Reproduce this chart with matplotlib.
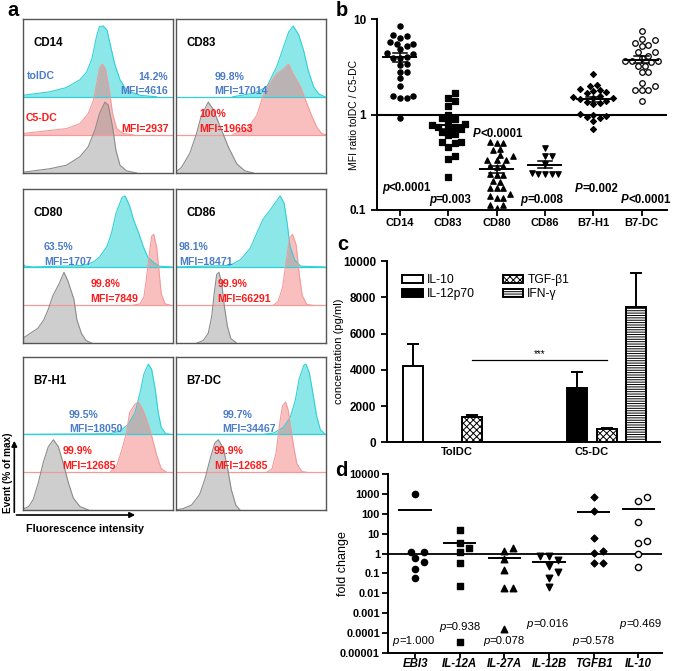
import numpy as np
import matplotlib
matplotlib.use("Agg")
import matplotlib.pyplot as plt
from matplotlib.patches import Patch

plt.rcParams['font.family'] = ['Liberation Sans', 'DejaVu Sans']
plt.rcParams['hatch.linewidth'] = 0.7

# ---------------- panel a: histogram outlines ----------------
# (x in % of box width, height in % of max), one list per population
cd14_tol = [(0, 2), (18, 7), (29, 13), (38, 24), (42.5, 35), (46, 54), (49, 85), (51, 99), (53.5, 100),
            (56, 94), (58, 75), (61, 47), (64.6, 24), (69, 9), (78, 2), (89, 0)]
cd14_c5 = [(0, 2), (29, 9), (38, 16), (43.5, 30), (47, 49), (49.5, 77), (51, 95), (53, 100), (55, 93),
           (57.5, 63), (59.7, 30), (62.4, 9), (66.8, 2), (73.5, 0)]
cd14_iso = [(0, 1), (18, 6), (29, 11), (38, 23), (43.5, 37), (48, 61), (51, 84), (54.6, 100), (56.8, 96),
            (59.7, 65), (61.9, 32), (64.6, 11), (69, 3), (75.7, 0)]
cd83_tol = [(38, 0), (52, 5), (60.5, 14), (67, 42), (71.6, 70), (75, 91), (78, 100), (81.6, 88), (85, 65),
            (88, 37), (91.6, 14), (95, 4), (99, 0)]
cd83_c5 = [(38, 1), (47, 7), (54, 28), (58, 55), (63, 74), (67, 86), (71.6, 93), (75, 100), (78, 86),
           (82.7, 69), (87, 45), (90.5, 26), (94, 10), (97, 2), (100, 0)]
cd83_iso = [(0, 1), (4, 8), (9.5, 28), (14, 56), (17, 80), (21.7, 100), (25, 90), (29.5, 66), (35, 37),
            (40.6, 13), (46, 3), (51.7, 0)]
cd80_tol = [(0, 5), (1.5, 1), (7, 0), (40, 2), (47, 7), (51, 14), (56, 29), (59, 48), (62, 76), (66, 98),
            (68, 100), (71, 86), (73.5, 67), (77, 48), (80, 29), (83, 14), (87, 6), (91, 1), (99, 0)]
cd80_c5 = [(73.5, 0), (78, 2), (80.5, 12), (82, 35), (84, 71), (85.6, 97), (87, 100), (89, 81), (90.7, 44),
           (92, 16), (94.5, 2), (98, 0)]
cd80_iso = [(0, 7), (5, 14), (10, 21), (14, 33), (17, 48), (20, 67), (24, 83), (27.4, 100), (30, 88),
            (34, 62), (36, 33), (39, 14), (42, 4), (46, 0)]
cd86_tol = [(0, 0), (36, 2), (43, 10), (49.5, 26), (54, 48), (58, 67), (63, 81), (66, 90), (69.4, 100),
            (72, 90), (74, 62), (76, 29), (79, 10), (83, 1), (99, 0)]
cd86_c5 = [(65, 0), (68, 5), (71, 25), (73.4, 62), (75.6, 94), (77.6, 100), (80, 85), (82, 44), (84, 14),
           (87, 1), (90.5, 0)]
cd86_iso = [(14, 0), (18.4, 4), (21.7, 14), (24, 38), (25.7, 71), (27.3, 97), (28.8, 100), (30.6, 85),
            (32.4, 52), (34.4, 24), (36.6, 7), (40.6, 0)]
b7h1_tol = [(0, 0), (58, 1), (64.6, 5), (70, 14), (74.6, 31), (78, 60), (80.5, 86), (83.4, 100), (85.6, 93),
            (88, 64), (90, 31), (92, 10), (95, 1), (99, 0)]
b7h1_c5 = [(58, 0), (62.4, 9), (65.7, 31), (69, 57), (71, 85), (74.6, 97), (76.8, 100), (79.6, 90), (82.3, 75),
           (85.6, 52), (89, 24), (92, 5), (95.6, 0)]
b7h1_iso = [(0, 1), (4, 5), (7, 15), (10.4, 39), (13.7, 68), (17, 90), (20.4, 100), (23.7, 90), (27, 66),
            (30.3, 39), (33.6, 17), (38, 5), (43.6, 0)]
b7dc_tol = [(0, 0), (58, 0), (65, 2), (71.6, 10), (76, 24), (79.4, 48), (82, 79), (85, 98), (86.5, 100),
            (88.7, 88), (91, 60), (93.6, 26), (96, 7), (99.3, 0)]
b7dc_c5 = [(60.5, 0), (64, 5), (66.7, 28), (69.4, 74), (71, 95), (73, 100), (74.8, 88), (76, 70), (78.3, 37),
           (80.5, 12), (83.8, 1), (87, 0)]
b7dc_iso = [(0, 0), (5, 2), (10.6, 7), (16, 22), (19.5, 44), (23, 73), (26, 95), (28.4, 100), (31.7, 88),
            (34.6, 59), (37, 29), (40, 7), (42.8, 0)]

a_markers = ['CD14', 'CD83', 'CD80', 'CD86', 'B7-H1', 'B7-DC']
a_tol_pct = ['14.2%', '99.8%', '63.5%', '98.1%', '99.5%', '99.7%']
a_tol_mfi = ['MFI=4616', 'MFI=17014', 'MFI=1707', 'MFI=18471', 'MFI=18050', 'MFI=34467']
a_c5_pct = ['', '100%', '99.8%', '99.9%', '99.9%', '99.9%']
a_c5_mfi = ['MFI=2937', 'MFI=19663', 'MFI=7849', 'MFI=66291', 'MFI=12685', 'MFI=12685']

# ---------------- panel b: MFI ratio tolDC / C5-DC ----------------
b_markers = ['CD14', 'CD83', 'CD80', 'CD86', 'B7-H1', 'B7-DC']
b_cd14 = [8.5, 6.8, 6.6, 6.3, 5.5, 5.5, 5.2, 5.8, 4.8, 4.4, 4.3, 4.0, 3.9, 3.9, 3.4, 3.3, 2.8, 2.8,
          2.4, 2.0, 1.55, 1.5, 1.5, 1.55, 0.93]
b_cd83 = [1.40, 1.49, 1.67, 1.24, 1.0, 0.92, 0.86, 0.89, 0.77, 0.74, 0.80, 0.74, 0.70, 0.72, 0.65,
          0.63, 0.61, 0.51, 0.50, 0.52, 0.455, 0.37, 0.34, 0.22]
b_cd80 = [0.50, 0.51, 0.50, 0.44, 0.43, 0.37, 0.38, 0.33, 0.33, 0.335, 0.29, 0.29, 0.285, 0.24, 0.23,
          0.23, 0.20, 0.195, 0.17, 0.17, 0.17, 0.148, 0.135, 0.134, 0.14, 0.112, 0.112, 0.105]
b_cd86 = [0.448, 0.37, 0.37, 0.30, 0.24, 0.24, 0.24, 0.24, 0.245]
b_b7h1 = [2.67, 2.06, 2.0, 1.85, 1.81, 1.75, 1.71, 1.66, 1.55, 1.52, 1.50, 1.48, 1.45, 1.40, 1.36, 1.33,
          1.28, 1.02, 1.0, 0.97, 0.95, 0.92, 0.85, 0.71]
b_b7dc = [7.46, 6.2, 6.0, 5.6, 5.3, 5.2, 4.5, 4.5, 4.1, 3.95, 3.65, 3.62, 3.55, 3.62, 3.2, 3.25, 2.77,
          2.77, 2.13, 1.98, 1.81, 1.81, 1.81, 1.38]
b_pvals = [('p', '<0.0001'), ('p', '=0.003'), ('P', '<0.0001'), ('p', '=0.008'), ('P', '=0.002'), ('P', '<0.0001')]

# ---------------- panel c: cytokine concentration ----------------
c_groups = ['TolDC', 'C5-DC']
c_cytokines = ['IL-10', 'IL-12p70', 'TGF-β1', 'IFN-γ']
c_toldc_mean = [4200, np.nan, 1415, np.nan]
c_toldc_sem = [1230, np.nan, 65, np.nan]
c_c5dc_mean = [np.nan, 2980, 715, 7460]
c_c5dc_sem = [np.nan, 870, 65, 1880]
c_sig_level = 4550

# ---------------- panel d: fold change ----------------
d_genes = ['EBI3', 'IL-12A', 'IL-27A', 'IL-12B', 'TGFB1', 'IL-10']
d_ebi3 = [1050, 0.58, 1.17, 1.26, 0.36, 0.17, 0.059]
d_il12a = [16.4, 1.86, 3.3, 1.17, 0.32, 0.022, 0.000033]
d_il27a = [1.42, 1.86, 0.54, 0.15, 0.018, 0.018, 0.00016]
d_il12b = [0.79, 0.48, 0.79, 0.25, 0.114, 0.057, 0.02]
d_tgfb1 = [755, 137, 6.2, 1.42, 1.04, 0.34, 0.34]
d_il10 = [440, 755, 38, 3.46, 4.5, 1.0, 0.22]
d_pvals = ['=1.000', '=0.938', '=0.078', '=0.016', '=0.578', '=0.469']


def swarm(vals, dx_px, dy_px, px_per_decade):
    # simple beeswarm: elliptical footprint, wider than tall, like Prism's column scatter
    y = np.log10(np.asarray(vals, float)) * px_per_decade
    xs = np.zeros(len(y))
    placed = []
    cands = [0.0]
    for k in range(1, 40):
        cands += [k * dx_px / 2, -k * dx_px / 2]
    for i in np.argsort(y):
        for c in cands:
            if all(((c - px) / dx_px) ** 2 + ((y[i] - py) / dy_px) ** 2 >= 1 for px, py in placed):
                break
        xs[i] = c
        placed.append((c, y[i]))
    return xs


W, H = 675, 671
fig = plt.figure(figsize=(W / 100, H / 100), dpi=100)


def fx(px):
    return px / W


def fy(py):
    return 1 - py / H


# ---------------- panel a ----------------
hists = [(cd14_tol, cd14_c5, cd14_iso), (cd83_tol, cd83_c5, cd83_iso), (cd80_tol, cd80_c5, cd80_iso),
         (cd86_tol, cd86_c5, cd86_iso), (b7h1_tol, b7h1_c5, b7h1_iso), (b7dc_tol, b7dc_c5, b7dc_iso)]
box_cols = [(22.7, 173.3), (175.5, 326.3)]
box_rows = [(19, 173), (189, 343.3), (357.3, 510)]
# label layout per box: (tolDC text x, align, C5-DC text x, align)
txt_layout = [
    (0.967, 'right', 0.97, 'right'),
    (0.257, 'left', 0.16, 'left'),
    (0.14, 'left', 0.45, 'left'),
    (0.022, 'left', 0.277, 'left'),
    (0.308, 'left', 0.263, 'left'),
    (0.31, 'left', 0.255, 'left'),
]
blue = '#4a7cc8'
red = '#ff1a1a'
peak = 0.46
for k in range(6):
    r, c = divmod(k, 2)
    x0, x1 = box_cols[c]
    y0, y1 = box_rows[r]
    ax = fig.add_axes([fx(x0), fy(y1), fx(x1 - x0), (y1 - y0) / H])
    ax.set_xlim(0, 100)
    ax.set_ylim(0, 1)
    ax.set_xticks([])
    ax.set_yticks([])
    for s in ax.spines.values():
        s.set_color('#555555')
        s.set_linewidth(1.0)
    tol, c5, iso = hists[k]
    layers = [(tol, 0.495, (0.55, 0.91, 0.91, 1.0), '#2fd0d8'),
              (c5, 0.247, (0.95, 0.45, 0.45, 0.45), '#f39a9a'),
              (iso, 0.0, (0.55, 0.55, 0.55, 0.42), '#8c8c8c')]
    for pts, base, face, edge in layers:
        xs = np.array([p[0] for p in pts])
        ys = base + np.array([p[1] for p in pts]) / 100 * peak
        ax.fill_between(xs, base, ys, color=face, lw=0)
        ax.plot(xs, ys, color=edge, lw=0.8)
        if base > 0:
            ax.axhline(base, color=edge, lw=0.9)
    ax.text(0.07, 0.845, a_markers[k], transform=ax.transAxes, fontsize=8.3, fontweight='bold',
            va='center', ha='left')
    tx, tha, cx, cha = txt_layout[k]
    ax.text(tx, 0.625, a_tol_pct[k], transform=ax.transAxes, fontsize=7.6, fontweight='bold',
            color=blue, ha=tha, va='center')
    ax.text(tx, 0.53, a_tol_mfi[k], transform=ax.transAxes, fontsize=7.6, fontweight='bold',
            color=blue, ha=tha, va='center')
    if a_c5_pct[k]:
        ax.text(cx, 0.385, a_c5_pct[k], transform=ax.transAxes, fontsize=7.6, fontweight='bold',
                color=red, ha=cha, va='center')
    ax.text(cx, 0.287, a_c5_mfi[k], transform=ax.transAxes, fontsize=7.6, fontweight='bold',
            color=red, ha=cha, va='center')
    if k == 0:
        ax.text(0.03, 0.63, 'tolDC', transform=ax.transAxes, fontsize=7.6, fontweight='bold',
                color=blue, ha='left', va='center')
        ax.text(0.02, 0.355, 'C5-DC', transform=ax.transAxes, fontsize=7.6, fontweight='bold',
                color=red, ha='left', va='center')

fig.add_artist(matplotlib.patches.FancyArrowPatch((fx(14.3), fy(515)), (fx(14.3), fy(438)),
                                                  transform=fig.transFigure, arrowstyle='-|>',
                                                  mutation_scale=8, lw=1.2, color='black'))
fig.add_artist(matplotlib.patches.FancyArrowPatch((fx(13.7), fy(515)), (fx(138), fy(515)),
                                                  transform=fig.transFigure, arrowstyle='-|>',
                                                  mutation_scale=8, lw=1.2, color='black'))
fig.text(fx(8.5), fy(473), 'Event (% of max)', rotation=90, ha='center', va='center',
         fontsize=7.2, fontweight='bold')
fig.text(fx(85), fy(529), 'Fluorescence intensity', ha='center', va='center',
         fontsize=7.8, fontweight='bold')

# panel letters
for lab, x, y in [('a', 12.5, 10), ('b', 342, 11), ('c', 342.5, 245), ('d', 341.5, 470)]:
    fig.text(fx(x), fy(y), lab, fontsize=14.5, fontweight='bold', ha='center', va='center')


def style_axes(ax):
    for s in ['top', 'right']:
        ax.spines[s].set_visible(False)
    for s in ['left', 'bottom']:
        ax.spines[s].set_linewidth(1.4)
    ax.tick_params(width=1.3, length=4, direction='out')
    ax.tick_params(which='minor', length=0)


# ---------------- panel b ----------------
axb = fig.add_axes([fx(376.7), fy(210), fx(666.7 - 376.7), (210 - 19) / H])
style_axes(axb)
axb.set_yscale('log')
axb.set_ylim(0.1, 10)
axb.set_xlim(-0.48, 5.52)
b_sets = [b_cd14, b_cd83, b_cd80, b_cd86, b_b7h1, b_b7dc]
b_style = [dict(marker='o', facecolor='black', s=14), dict(marker='s', facecolor='black', s=14),
           dict(marker='^', facecolor='black', s=15), dict(marker='v', facecolor='black', s=15),
           dict(marker='D', facecolor='black', s=9), dict(marker='o', facecolor='white', s=16)]
axb.axhline(1, color='black', lw=1.5, zorder=1)
for i, vals in enumerate(b_sets):
    off = swarm(vals, 6.6, 6.0, 95.5) / 48.3
    st = b_style[i]
    axb.scatter(i + off, vals, marker=st['marker'], s=st['s'], facecolor=st['facecolor'],
                edgecolor='black', linewidths=0.9, zorder=3)
    m = np.mean(vals)
    se = np.std(vals, ddof=1) / np.sqrt(len(vals))
    axb.plot([i - 0.34, i + 0.34], [m, m], color='black', lw=1.4, zorder=4)
    axb.plot([i, i], [m - se, m + se], color='black', lw=1.1, zorder=4)
    for v in (m - se, m + se):
        axb.plot([i - 0.15, i + 0.15], [v, v], color='black', lw=1.1, zorder=4)
axb.set_xticks(range(6))
axb.set_xticklabels(b_markers, fontsize=8, fontweight='bold')
axb.tick_params(axis='x', pad=2)
axb.set_yticks([0.1, 1, 10])
axb.set_yticklabels(['0.1', '1', '10'], fontsize=8.5, fontweight='bold')
axb.set_ylabel('MFI ratio tolDC / C5-DC', fontsize=7.5)
axb.yaxis.set_label_coords(-0.062, 0.5)
b_ptxt_pos = [(-0.23, 0.168), (0.745, 0.126), (1.66, 0.63), (2.63, 0.126), (3.77, 0.164), (4.72, 0.126)]
for (pl, rest), (x, y) in zip(b_pvals, b_ptxt_pos):
    axb.text(x, y, pl, fontsize=8.3, fontweight='bold', fontstyle='italic', ha='right', va='center')
    axb.text(x, y, rest, fontsize=8.3, fontweight='bold', ha='left', va='center')

# ---------------- panel c ----------------
axc = fig.add_axes([fx(386.7), fy(442.3), fx(660 - 386.7), (442.3 - 261) / H])
style_axes(axc)
axc.set_ylim(0, 10000)
axc.set_xlim(-0.52, 1.504)
slot = 0.218
bw = 0.148
faces = ['white', 'black', 'white', 'white']
hatches = [None, None, 'xxxxx', '-------']
for gi, (means, sems) in enumerate([(c_toldc_mean, c_toldc_sem), (c_c5dc_mean, c_c5dc_sem)]):
    for ci in range(4):
        if np.isnan(means[ci]):
            continue
        x = gi + (ci - 1.5) * slot
        axc.errorbar([x], [means[ci]], yerr=[[0], [sems[ci]]], fmt='none', ecolor='black',
                     elinewidth=1.4, capsize=4.5, capthick=1.4, zorder=2)
        axc.bar([x], [means[ci]], width=bw, color=faces[ci], edgecolor='black', lw=1.4,
                hatch=hatches[ci], zorder=3)
x_a = 0 + 0.5 * slot
x_b = 1 + 0.5 * slot
axc.plot([x_a, x_b], [c_sig_level, c_sig_level], color='black', lw=0.9)
axc.text((x_a + x_b) / 2, c_sig_level + 60, '***', ha='center', va='bottom', fontsize=7)
axc.set_xticks([0, 1])
axc.set_xticklabels(c_groups, fontsize=8, fontweight='bold')
axc.tick_params(axis='x', length=0)
axc.set_yticks(np.arange(0, 10001, 2000))
axc.set_yticklabels([str(v) for v in range(0, 10001, 2000)], fontsize=8.5, fontweight='bold')
axc.set_ylabel('concentration (pg/ml)', fontsize=8)
axc.yaxis.set_label_coords(-0.158, 0.5)
handles = [Patch(facecolor=faces[i], edgecolor='black', lw=1.4, hatch=hatches[i]) for i in range(4)]
axc.legend(handles, c_cytokines, ncol=2, loc='upper left', bbox_to_anchor=(fx(396), fy(268)),
           bbox_transform=fig.transFigure, frameon=False, fontsize=8.7, handlelength=1.7,
           handleheight=0.65, handletextpad=0.35, columnspacing=2.3, labelspacing=0.2, borderpad=0)

# ---------------- panel d ----------------
axd = fig.add_axes([fx(388.3), fy(652.7), fx(661.7 - 388.3), (652.7 - 474.3) / H])
style_axes(axd)
axd.set_yscale('log')
axd.set_ylim(1e-5, 1e4)
axd.set_xlim(-0.6, 5.52)
d_sets = [d_ebi3, d_il12a, d_il27a, d_il12b, d_tgfb1, d_il10]
d_style = [dict(marker='o', facecolor='black', s=20), dict(marker='s', facecolor='black', s=20),
           dict(marker='^', facecolor='black', s=22), dict(marker='v', facecolor='black', s=22),
           dict(marker='D', facecolor='black', s=12), dict(marker='o', facecolor='white', s=20)]
axd.axhline(1, color='black', lw=1.3, zorder=1)
for i, vals in enumerate(d_sets):
    off = swarm(vals, 9.0, 7.5, 19.8) / 44.7
    st = d_style[i]
    axd.scatter(i + off, vals, marker=st['marker'], s=st['s'], facecolor=st['facecolor'],
                edgecolor='black', linewidths=1.0, zorder=3)
    m = np.mean(vals)
    axd.plot([i - 0.35, i + 0.35], [m, m], color='black', lw=1.4, zorder=4)
axd.set_xticks(range(6))
axd.set_xticklabels(d_genes, fontsize=8.3, fontweight='bold', fontstyle='italic')
axd.tick_params(axis='x', length=3.5, pad=0.5)
dec = [10.0 ** e for e in range(-5, 5)]
axd.set_yticks(dec)
axd.set_yticklabels(['0.00001', '0.0001', '0.001', '0.01', '0.1', '1', '10', '100', '1000', '10000'],
                    fontsize=7.9, fontweight='bold')
axd.tick_params(axis='y', pad=2)
axd.set_ylabel('fold change', fontsize=9)
axd.yaxis.set_label_coords(-0.142, 0.5)
d_ptxt_pos = [(-0.36, 4.1e-5), (0.69, 2.0e-4), (1.66, 4.1e-5), (2.64, 2.8e-4), (3.67, 4.1e-5), (4.72, 2.8e-4)]
for txt, (x, y) in zip(d_pvals, d_ptxt_pos):
    axd.text(x, y, 'p', fontsize=8.2, fontstyle='italic', ha='right', va='center')
    axd.text(x, y, txt, fontsize=8.2, ha='left', va='center')

fig.savefig('out.png', dpi=100)
